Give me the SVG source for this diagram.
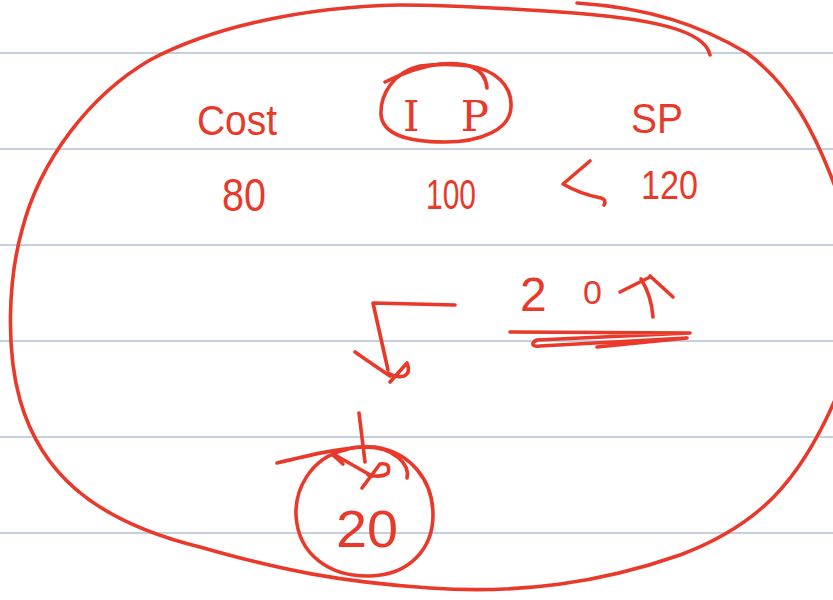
<svg xmlns="http://www.w3.org/2000/svg" width="833" height="600" viewBox="0 0 833 600">
<style>
.rule{stroke:#b3bfd2;stroke-width:1.6;fill:none}
.ink{stroke:#e8392b;stroke-width:3.6;fill:none;stroke-linecap:round;stroke-linejoin:round}
.txt{fill:#e8392b;font-family:"Liberation Sans","DejaVu Sans",sans-serif}
.ser{fill:#e8392b;font-family:"DejaVu Serif","Liberation Serif",serif}
</style>
<rect width="833" height="600" fill="#ffffff"/>
<g id="paper">
<line class="rule" x1="0" y1="53" x2="833" y2="53"/>
<line class="rule" x1="0" y1="149" x2="833" y2="149"/>
<line class="rule" x1="0" y1="245" x2="833" y2="245"/>
<line class="rule" x1="0" y1="341" x2="833" y2="341"/>
<line class="rule" x1="0" y1="437" x2="833" y2="437"/>
<line class="rule" x1="0" y1="533" x2="833" y2="533"/>
</g>
<g id="outline">
<path class="ink" d="M710,55 C705,30 650,18 560,12 C500,8 450,5 400,5 C300,7 210,28 150,60 C90,95 40,160 22,230 C8,280 6,350 20,400 C40,470 90,520 200,547 C280,570 340,582 430,588 C520,594 600,583 680,555 C760,525 800,480 835,400"/>
<path class="ink" d="M577,3 C650,8 700,25 747,53 C790,85 815,130 840,200"/>
</g>
<g id="cost"><text class="txt" x="197" y="135" font-size="42" textLength="80" lengthAdjust="spacingAndGlyphs">Cost</text></g>
<g id="ip">
<path class="ink" d="M420,66 C393,72 380,95 381,115 C383,135 410,142 445,142 C480,142 510,130 511,107 C512,85 495,70 470,66 C455,64 435,64 420,66"/>
<path class="ink" d="M385,82 C405,72 425,66 440,64 C465,62 485,66 487,88"/>
<text class="ser" x="403" y="131" font-size="42" textLength="86" lengthAdjust="spacing">IP</text>
</g>
<g id="sp"><text class="txt" x="631" y="133" font-size="42" textLength="52" lengthAdjust="spacingAndGlyphs">SP</text></g>
<g id="v80"><text class="txt" x="222" y="211" font-size="46" textLength="44" lengthAdjust="spacingAndGlyphs">80</text></g>
<g id="v100"><text class="txt" x="426" y="209" font-size="42" textLength="50" lengthAdjust="spacingAndGlyphs">100</text></g>
<g id="v120"><text class="txt" x="641" y="199" font-size="40" textLength="57" lengthAdjust="spacingAndGlyphs">120</text></g>
<g id="profit">
<text class="txt" x="520" y="311" font-size="48"><tspan>2</tspan><tspan x="583" font-size="34" dy="-7">0</tspan></text>
<path class="ink" d="M620,292 L650,277 M641,279 C648,290 652,303 653,317 M650,276 L673,297"/>
<path class="ink" d="M510,332 L690,333 L537,340 C530,343 532,347 540,346 L687,338 L597,347"/>
</g>
<g id="result">
<path class="ink" d="M345,450 C310,458 295,490 296,515 C298,555 330,577 370,576 C410,575 433,548 433,515 C433,480 410,452 375,447 C360,446 350,448 345,450 Z"/>
<path class="ink" d="M277,463 C310,455 340,448 365,447 C395,447 410,465 407,478"/>
<text class="txt" x="336" y="547" font-size="52" textLength="62" lengthAdjust="spacingAndGlyphs">20</text>
</g>
<g id="connectors">
<path class="ink" d="M590,161 L563,184 Q580,194 601,198 Q607,200 604,205"/>
<path class="ink" d="M455,305 L373,303 L388,370"/>
<path class="ink" d="M355,352 Q372,364 390,376"/>
<path class="ink" d="M390,382 L407,363 Q411,373 404,376 Q396,378 388,373"/>
<path class="ink" d="M359,413 L365,462"/>
<path class="ink" d="M335,455 L372,476 M333,455 L343,464"/>
<path class="ink" d="M362,488 L380,464 Q391,462 388,473 Q382,478 368,475"/>
</g>
</svg>
